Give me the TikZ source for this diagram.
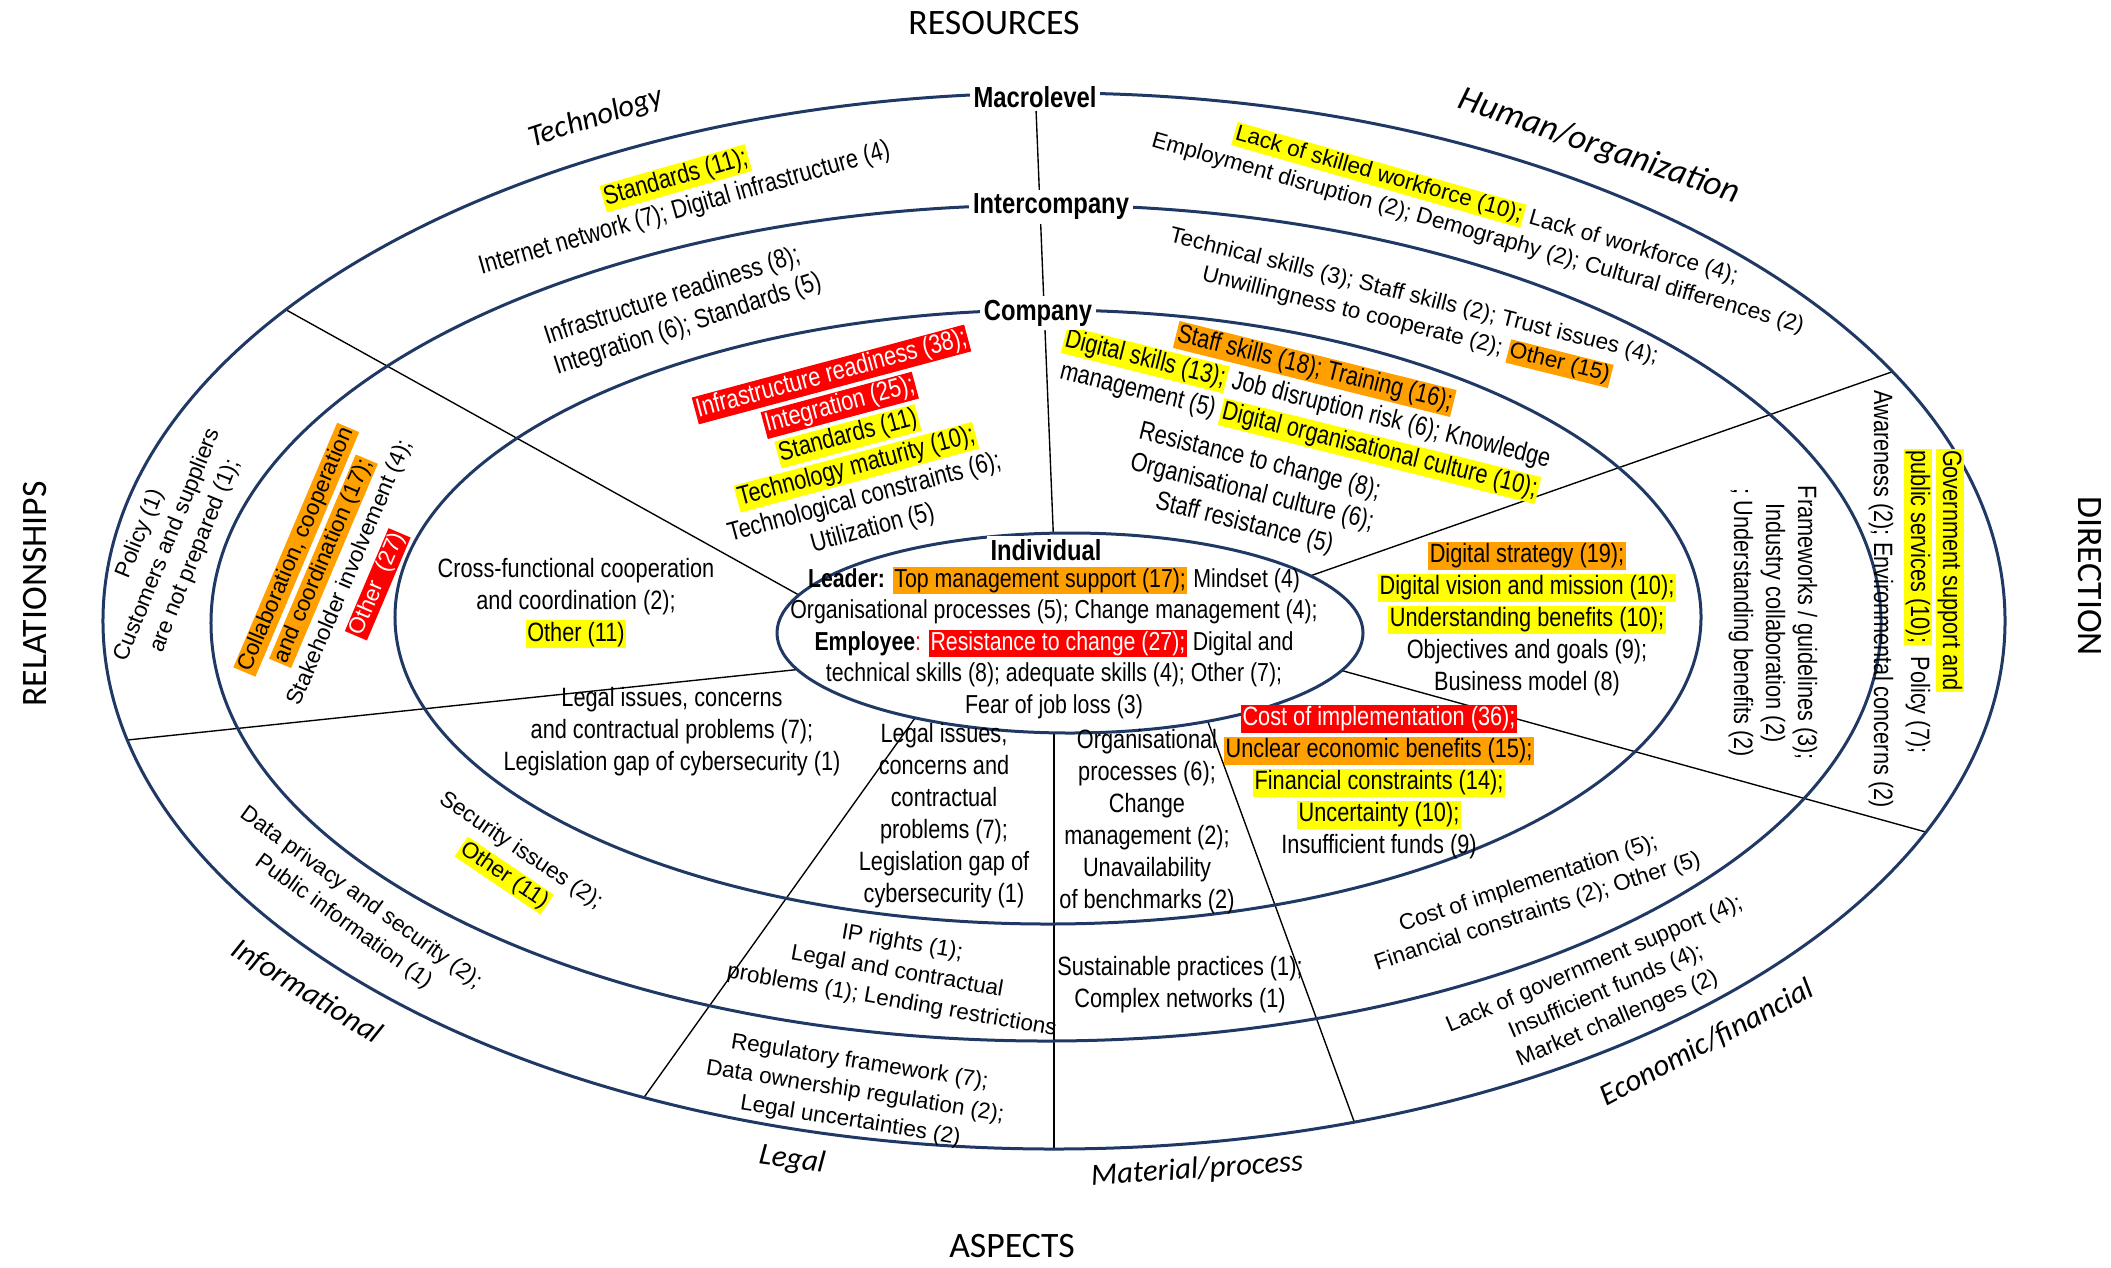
\documentclass[tikz,border=0pt]{standalone}
\usepackage{fontspec}
\setmainfont{Liberation Sans}
\newfontfamily\narf[FakeStretch=0.82]{Liberation Sans}
\newfontfamily\calf{Carlito}
\definecolor{navy}{RGB}{31,56,100}
\definecolor{hlY}{RGB}{255,255,0}
\definecolor{hlO}{RGB}{255,160,0}
\definecolor{hlR}{RGB}{255,0,0}
\newcommand\hlbox[2]{{\setlength\fboxsep{0.6pt}\colorbox{#1}{\vphantom{Ag()}#2}}}
\newcommand\hly[1]{\hlbox{hlY}{#1}}
\newcommand\hlo[1]{\hlbox{hlO}{#1}}
\newcommand\hlr[1]{\hlbox{hlR}{\color{white}#1}}
\tikzset{
  nar/.style={font=\narf\fontsize{10.6}{12.8}\selectfont, align=center, inner sep=0pt},
  reg/.style={font=\fontsize{9}{11.8}\selectfont, align=center, inner sep=0pt},
  lvl/.style={font=\narf\bfseries\fontsize{11.6}{13}\selectfont, fill=white, inner sep=1.5pt},
  asp/.style={font=\calf\itshape\fontsize{12.3}{14}\selectfont, inner sep=0pt},
  dimlab/.style={font=\calf\fontsize{14.3}{16}\selectfont, inner sep=0pt},
  ring/.style={draw=navy, line width=1.2pt},
  sepline/.style={draw=black, line width=0.55pt}
}
\begin{document}
\begin{tikzpicture}[x=0.4pt,y=-0.4pt]
\useasboundingbox (0,0) rectangle (2111,1267);
% separator lines, clipped to outer ellipse
\begin{scope}
  \clip (1054,621) ellipse [x radius=380.4pt, y radius=211.2pt];
  \draw[sepline] (1034,60) -- (1056,600);
  \draw[sepline] (236,282) -- (851,624);
  \draw[sepline] (80,745) -- (850,664);
  \draw[sepline] (620,1131) -- (945,676);
  \draw[sepline] (1054,700) -- (1054,1200);
  \draw[sepline] (1200,700) -- (1370,1165);
  \draw[sepline] (1300,659) -- (1980,847);
  \draw[sepline] (1270,590) -- (1960,348);
\end{scope}
\fill[white] (1070,633) ellipse [x radius=117.2pt, y radius=40pt];
% rings
\draw[ring] (1054,621) ellipse [x radius=380.4pt, y radius=211.2pt];
\draw[ring] (1046,623) ellipse [x radius=334pt, y radius=167.2pt];
\draw[ring] (1048,617) ellipse [x radius=261.2pt, y radius=122.8pt];
\draw[ring] (1070,633) ellipse [x radius=117.2pt, y radius=40pt];

% dimension labels
\node[dimlab] (res) at (994,23) {RESOURCES};
\node[dimlab] (asp) at (1012,1246) {ASPECTS};
\node[dimlab, rotate=90] (rel) at (35,594) {RELATIONSHIPS};
\node[dimlab, rotate=-90] (dir) at (2090,576) {DIRECTION};

% aspect labels
\node[asp, rotate=18] (tech) at (596,118) {Technology};
\node[asp, rotate=-19, font=\calf\itshape\fontsize{14}{16}\selectfont] (hum) at (1599,147) {Human/organization};
\node[asp, rotate=-32] (inf) at (307,992) {Informational};
\node[asp, rotate=-8] (leg) at (792,1160) {Legal};
\node[asp, rotate=4] (mat) at (1197,1170) {Material/process};
\node[asp, rotate=28] (eco) at (1707,1043) {Economic/financial};

% Technology
\node[nar, rotate=16] (t1) at (680,193) {\hly{Standards (11);}\\Internet network (7); Digital infrastructure (4)};
\node[nar, rotate=18, align=left] (t2) at (683,310) {Infrastructure readiness (8);\\Integration (6); Standards (5)};
\node[nar, rotate=15] (t3) at (852,451) {\hlr{Infrastructure readiness (38);}\\\hlr{Integration (25);}\\\hly{Standards (11)}\\\hly{Technology maturity (10);}\\Technological constraints (6);\\Utilization (5)};

% Human/organization
\node[reg, rotate=-16] (h1) at (1482,219) {\hly{Lack of skilled workforce (10);} Lack of workforce (4);\\Employment disruption (2); Demography (2); Cultural differences (2)};
\node[reg, rotate=-14] (h2) at (1410,312) {Technical skills (3); Staff skills (2); Trust issues (4);\\Unwillingness to cooperate (2); \hlo{Other (15)}};
\node[nar, rotate=-14] (h3) at (1307,400) {\hlo{Staff skills (18); Training (16);}\\\hly{Digital skills (13);} Job disruption risk (6); Knowledge\\management (5) \hly{Digital organisational culture (10);}};
\node[nar, rotate=-14] (h4) at (1252,493) {Resistance to change (8);\\Organisational culture (6);\\Staff resistance (5)};

% Direction
\node[nar, rotate=-90, align=left, anchor=west] (d1) at (1934,448) {\hly{Government support and}\\\hly{public services (10);}\ \ Policy (7);};
\node[nar, rotate=-90] (d1b) at (1881,599) {Awareness (2); Environmental concerns (2)};
\node[nar, rotate=-90] (d2) at (1773,623) {Frameworks / guidelines (3);\\Industry collaboration (2)\\; Understanding benefits (2)};
\node[nar] (d3) at (1527,619) {\hlo{Digital strategy (19);}\\\hly{Digital vision and mission (10);}\\\hly{Understanding benefits (10);}\\Objectives and goals (9);\\Business model (8)};

% Economic/financial
\node[nar] (e1) at (1379,782) {\hlr{Cost of implementation (36);}\\\hlo{Unclear economic benefits (15);}\\\hly{Financial constraints (14);}\\\hly{Uncertainty (10);}\\Insufficient funds (9)};
\node[reg, rotate=18] (e2) at (1533,898) {Cost of implementation (5);\\Financial constraints (2); Other (5)};
\node[reg, rotate=23] (e3) at (1606,992) {Lack of government support (4);\\Insufficient funds (4);\\Market challenges (2)};

% Material/process
\node[nar] (m1) at (1147,822) {Organisational\\processes (6);\\Change\\management (2);\\Unavailability\\of benchmarks (2)};
\node[nar] (m2) at (1180,985) {Sustainable practices (1);\\Complex networks (1)};

% Legal
\node[nar] (l1) at (944,816) {Legal issues,\\concerns and\\contractual\\problems (7);\\Legislation gap of\\cybersecurity (1)};
\node[reg, rotate=-10] (l2) at (897,972) {IP rights (1);\\Legal and contractual\\problems (1); Lending restrictions};
\node[reg, rotate=-9] (l3) at (855,1092) {Regulatory framework (7);\\Data ownership regulation (2);\\Legal uncertainties (2)};

% Informational
\node[nar] (i1) at (672,732) {Legal issues, concerns\\and contractual problems (7);\\Legislation gap of cybersecurity (1)};
\node[reg, rotate=-34] (i2) at (512,864) {Security issues (2);\\\hly{Other (11)}};
\node[reg, rotate=-36] (i3) at (352,910) {Data privacy and security (2);\\Public information (1)};

% Relationships
\node[nar] (r1) at (576,603) {Cross-functional cooperation\\and coordination (2);\\\hly{Other (11)}};
\node[reg, rotate=67] (r2) at (337,567) {\hlo{Collaboration, cooperation}\\\hlo{and coordination (17);}\\Stakeholder involvement (4);\\\hlr{Other\ \ (27)}};
\node[reg, rotate=68] (r3) at (168,545) {Policy (1)\\Customers and suppliers\\are not prepared (1);};

% Individual
\node[nar, font=\narf\fontsize{10.4}{12.6}\selectfont] (ind) at (1054,643) {\textbf{Leader:} \hlo{Top management support (17);} Mindset (4)\\Organisational processes (5); Change management (4);\\\textbf{Employee}{\color{red}:} \hlr{Resistance to change (27);} Digital and\\technical skills (8); adequate skills (4); Other (7);\\Fear of job loss (3)};

% level labels
\node[lvl] (macro) at (1035,97) {Macrolevel};
\node[lvl] (inter) at (1051,207) {Intercompany};
\node[lvl] (comp) at (1038,313) {Company};
\node[lvl] (indiv) at (1046,550) {Individual};
\end{tikzpicture}
\end{document}
